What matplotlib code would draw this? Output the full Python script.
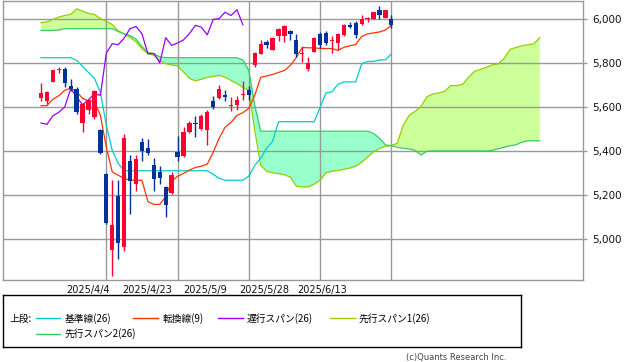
import numpy as np
import matplotlib
matplotlib.use('Agg')
import matplotlib.pyplot as plt

# 日足の四本値 (2025/3/19 - 2025/6/13)
opens = [5643, 5630, 5715, 5771, 5773, 5696, 5684, 5527, 5590, 5557,
         5496, 5296, 4951, 5197, 4966, 5355, 5251, 5442, 5414, 5337,
         5305, 5236, 5209, 5396, 5380, 5488, 5531, 5501, 5496, 5629,
         5641, 5657, 5605, 5612, 5657, 5680, 5791, 5844, 5897, 5862,
         5923, 5924, 5947, 5908, 5841, 5776, 5851, 5932, 5939, 5902,
         5892, 5930, 5977, 5984, 5980, 6001, 6003, 6045, 6008, 6000]
highs = [5711, 5673, 5771, 5784, 5784, 5731, 5691, 5619, 5640, 5681,
         5501, 5301, 5269, 5269, 5481, 5383, 5383, 5461, 5455, 5371,
         5333, 5242, 5307, 5469, 5510, 5537, 5560, 5569, 5587, 5653,
         5703, 5681, 5646, 5650, 5721, 5696, 5850, 5908, 5908, 5918,
         5959, 5977, 5950, 5935, 5874, 5829, 5920, 5941, 5946, 5927,
         5939, 5980, 5988, 5995, 6018, 6013, 6034, 6059, 6045, 6021]
lows = [5629, 5614, 5714, 5756, 5691, 5673, 5569, 5488, 5572, 5549,
        5387, 5069, 4833, 4911, 4948, 5115, 5221, 5357, 5383, 5221,
        5254, 5103, 5206, 5357, 5374, 5482, 5467, 5496, 5428, 5591,
        5639, 5628, 5585, 5587, 5632, 5632, 5783, 5841, 5870, 5859,
        5901, 5897, 5905, 5829, 5806, 5765, 5850, 5871, 5882, 5846,
        5859, 5927, 5961, 5917, 5976, 5988, 6002, 6003, 6007, 5962]
closes = [5664, 5670, 5768, 5774, 5711, 5685, 5578, 5617, 5636, 5675,
          5392, 5075, 5065, 4985, 5461, 5266, 5365, 5402, 5394, 5274,
          5280, 5156, 5292, 5375, 5487, 5529, 5523, 5562, 5578, 5602,
          5685, 5648, 5612, 5635, 5662, 5655, 5847, 5890, 5885, 5915,
          5958, 5968, 5935, 5844, 5846, 5802, 5917, 5882, 5893, 5907,
          5936, 5973, 5965, 5930, 6000, 6004, 6033, 6018, 6044, 5976]

# 一目均衡表
tenkan = [5608, 5608, 5637, 5653, 5678, 5687, 5671, 5641, 5630, 5625,
          5564, 5419, 5307, 5292, 5277, 5269, 5269, 5269, 5172, 5159,
          5159, 5194, 5265, 5287, 5300, 5315, 5327, 5333, 5342, 5396,
          5460, 5510, 5532, 5564, 5576, 5596, 5655, 5737, 5743, 5750,
          5759, 5768, 5791, 5827, 5873, 5871, 5871, 5868, 5868, 5868,
          5859, 5873, 5880, 5886, 5923, 5934, 5939, 5943, 5952, 5973]
kijun = [5826, 5826, 5826, 5826, 5826, 5826, 5814, 5787, 5759, 5732,
         5669, 5519, 5405, 5346, 5312, 5312, 5312, 5312, 5312, 5312,
         5312, 5312, 5312, 5312, 5312, 5312, 5312, 5312, 5312, 5296,
         5278, 5269, 5269, 5269, 5269, 5287, 5337, 5369, 5414, 5446,
         5535, 5535, 5535, 5535, 5535, 5535, 5535, 5600, 5666, 5671,
         5705, 5716, 5716, 5716, 5798, 5809, 5809, 5816, 5816, 5843]
senkou_a = [5985, 5989, 6000, 6011, 6018, 6023, 6048, 6038, 6027, 6023,
            6004, 5992, 5977, 5948, 5934, 5918, 5898, 5867, 5844, 5837,
            5814, 5799, 5793, 5789, 5761, 5732, 5721, 5728, 5737, 5741,
            5746, 5737, 5723, 5709, 5691, 5678, 5496, 5337, 5310, 5303,
            5299, 5294, 5283, 5242, 5239, 5239, 5251, 5269, 5303, 5310,
            5313, 5319, 5324, 5333, 5351, 5374, 5398, 5414, 5423, 5427,
            5437, 5519, 5564, 5582, 5605, 5648, 5662, 5666, 5673, 5700,
            5699, 5705, 5737, 5764, 5773, 5782, 5793, 5798, 5823, 5864,
            5873, 5880, 5885, 5889, 5917]
senkou_b = [5950, 5950, 5950, 5952, 5958, 5958, 5958, 5958, 5958, 5958,
            5958, 5958, 5958, 5945, 5935, 5927, 5911, 5877, 5850, 5844,
            5830, 5826, 5826, 5826, 5826, 5826, 5826, 5826, 5826, 5826,
            5826, 5826, 5826, 5826, 5816, 5768, 5610, 5492, 5492, 5492,
            5492, 5492, 5492, 5492, 5492, 5492, 5492, 5492, 5492, 5492,
            5492, 5492, 5492, 5492, 5492, 5492, 5482, 5460, 5430, 5426,
            5419, 5414, 5411, 5405, 5383, 5401, 5402, 5402, 5402, 5402,
            5402, 5402, 5402, 5402, 5402, 5402, 5405, 5412, 5419, 5426,
            5430, 5442, 5448, 5448, 5448]
chikou_shift = 25

date_labels = ['2025/4/4', '2025/4/23', '2025/5/9', '2025/5/28', '2025/6/13']
date_idx = [11, 23, 35, 47, 59]          # 縦グリッドの位置
label_pos = [8.0, 17.85, 27.6, 37.55, 47.3]  # 日付ラベルの位置
price_ticks = [5000, 5200, 5400, 5600, 5800, 6000]
legend_labels = ['基準線(26)', '転換線(9)', '遅行スパン(26)', '先行スパン1(26)', '先行スパン2(26)']

RED = '#ff0033'
BLUE = '#003399'
C_KIJUN = '#00cccc'
C_TENKAN = '#ff3300'
C_CHIKOU = '#9900ff'
C_SPAN1 = '#99cc00'
C_SPAN2 = '#33cc66'
GRID = '#999999'
JP = ['Noto Sans CJK JP', 'DejaVu Sans']


def main():
    o = np.array(opens)
    h = np.array(highs)
    l = np.array(lows)
    c = np.array(closes)
    a = np.array(senkou_a)
    b = np.array(senkou_b)
    x = np.arange(len(c))
    xf = np.arange(len(a))

    fig = plt.figure(figsize=(6.38, 3.62), dpi=100)
    ax = fig.add_axes([3 / 638, 82 / 362, 580 / 638, 279.5 / 362])

    # 雲
    ax.fill_between(xf, a, b, where=a >= b, interpolate=True, color='#ccff99', lw=0, zorder=1)
    ax.fill_between(xf, a, b, where=a < b, interpolate=True, color='#99ffcc', lw=0, zorder=1)
    ax.plot(xf, a, color=C_SPAN1, lw=0.9, zorder=2)
    ax.plot(xf, b, color=C_SPAN2, lw=0.9, zorder=2)

    ax.plot(x, kijun, color=C_KIJUN, lw=0.9, zorder=2)
    ax.plot(x, tenkan, color=C_TENKAN, lw=0.9, zorder=2)
    n_ch = len(c) - chikou_shift
    ax.plot(x[:n_ch], c[chikou_shift:], color=C_CHIKOU, lw=0.9, zorder=2)

    # ローソク足
    cols = np.where(c >= o, RED, BLUE)
    ax.vlines(x, l, h, colors=cols, lw=1.0, zorder=3)
    body = np.maximum(np.abs(c - o), 4)
    ax.bar(x, body, 0.72, bottom=np.minimum(o, c), color=cols, lw=0, zorder=4)

    ax.set_xlim(-6.4, 91.28)
    ax.set_ylim(4815.3, 6086.2)
    ax.set_xticks(date_idx, labels=[''] * len(date_idx))
    ax.set_xticks(label_pos, labels=date_labels, minor=True)
    ax.tick_params(axis='x', which='both', length=0)
    ax.tick_params(axis='x', which='minor', labelsize=7, pad=3.5, labelcolor='#111111')
    ax.yaxis.tick_right()
    ax.set_yticks(price_ticks, labels=[f'{v:,}' for v in price_ticks])
    ax.tick_params(axis='y', length=3, width=1, color=GRID, labelsize=7.5, pad=3.5,
                   labelcolor='#111111')
    ax.grid(True, which='major', color=GRID, lw=1.0)
    for s in ax.spines.values():
        s.set_color(GRID)
        s.set_linewidth(1.0)

    # 凡例
    lax = fig.add_axes([3 / 638, (362 - 346.7) / 362, 518 / 638, 51.7 / 362])
    lax.set_xlim(3, 521)
    lax.set_ylim(346.7, 295)
    lax.set_xticks([])
    lax.set_yticks([])
    for s in lax.spines.values():
        s.set_color('black')
        s.set_linewidth(1.0)
    lax.text(9, 318.5, '上段:', family=JP, fontsize=7, va='center', ha='left')
    items = [(35.7, 318.5, C_KIJUN), (133.3, 318.5, C_TENKAN), (218, 318.5, C_CHIKOU),
             (330, 318.5, C_SPAN1), (35.7, 334, C_SPAN2)]
    for (x0, y0, col), lab in zip(items, legend_labels):
        lax.plot([x0, x0 + 24.5], [y0, y0], color=col, lw=1.0)
        lax.text(x0 + 29, y0, lab, family=JP, fontsize=7, va='center', ha='left')

    fig.text(506 / 638, 1 - 357.5 / 362, '(c)Quants Research Inc.', fontsize=6,
             ha='right', va='center', color='#444444')

    fig.savefig('out.png', dpi=100)


if __name__ == '__main__':
    main()
